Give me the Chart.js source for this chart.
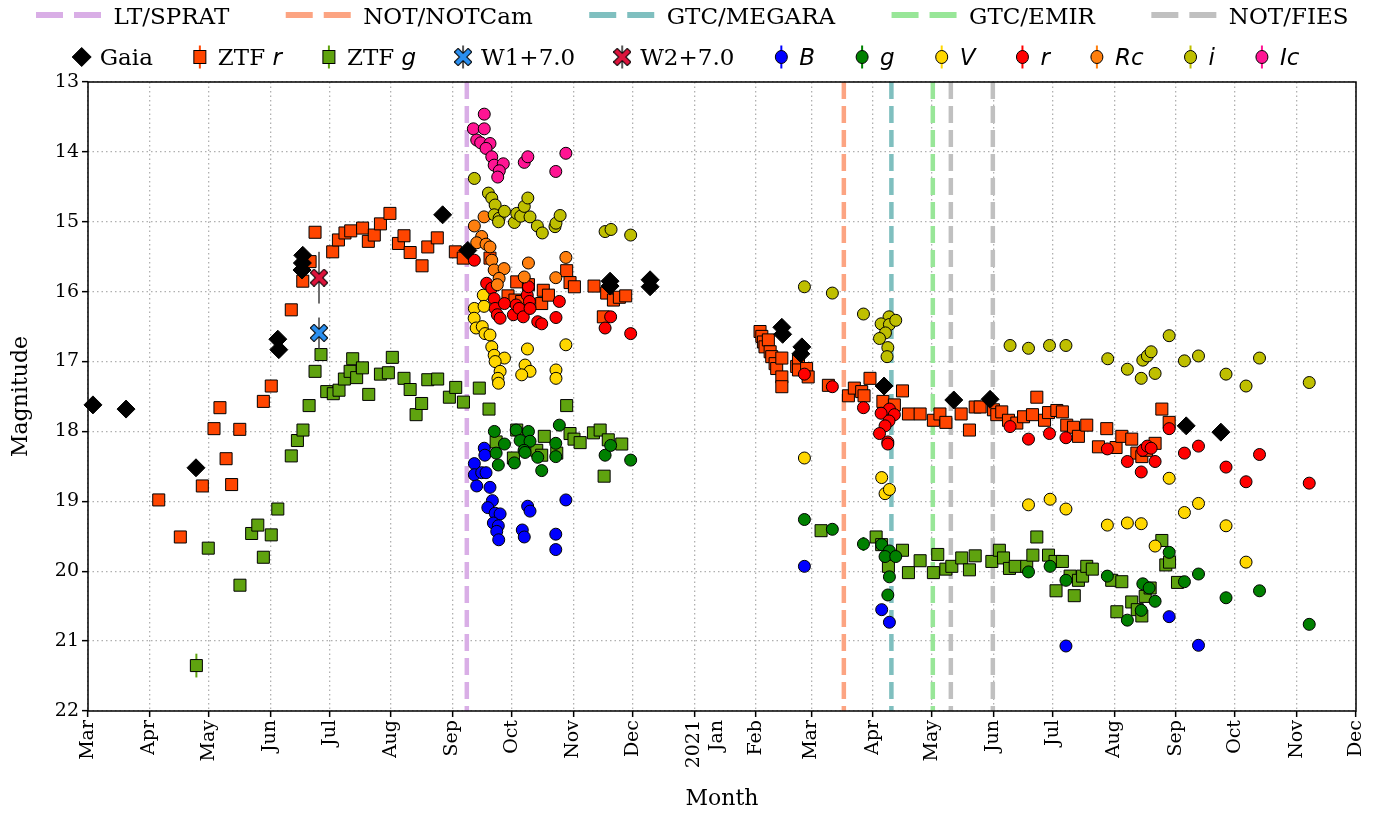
<!DOCTYPE html>
<html>
<head>
<meta charset="utf-8">
<script src="https://cdn.jsdelivr.net/npm/chart.js@4.4.0/dist/chart.umd.min.js"></script>
<style>
  html, body { margin: 0; padding: 0; background: #fff; }
</style>
</head>
<body>
<canvas id="lc" width="1385" height="815"></canvas>
<script>
// ---------- DATA (x = days since 2020-03-01, y = magnitude, optional 3rd = error) ----------
const monthDays = [0, 31, 61, 92, 122, 153, 184, 214, 245, 275, 306, 337, 365, 396, 426, 457, 487, 518, 549, 579, 610, 640];
const monthLabels = ["Mar", "Apr", "May", "Jun", "Jul", "Aug", "Sep", "Oct", "Nov", "Dec", ["2021", "Jan"],
  "Feb", "Mar", "Apr", "May", "Jun", "Jul", "Aug", "Sep", "Oct", "Nov", "Dec"];

// spectroscopy epochs
const specLabels = ["LT/SPRAT", "NOT/NOTCam", "GTC/MEGARA", "GTC/EMIR", "NOT/FIES"];
const specDays = [[191.2], [381.5], [405.5], [426.4], [435.5, 456.7]];

const gaia = [[2.5,17.62],[19.2,17.68],[54.5,18.52],[95.8,16.68],[96.3,16.83],[108.4,15.48],[108.2,15.59],
  [108.0,15.69],[179.0,14.90],[191.7,15.41],[263.5,15.85],[263.5,15.92],[283.7,15.83],[283.7,15.93],
  [350.2,16.51],[350.6,16.61],[360.3,16.79],[359.8,16.89],[401.8,17.35],[437.0,17.55],[455.3,17.54],
  [554.3,17.92],[571.8,18.01]];

const ztfR = [[35.7,18.98],[46.6,19.51],[57.7,18.78],[63.6,17.96],[66.6,17.66],[69.7,18.39],[72.5,18.76],
  [76.6,17.97],[88.5,17.57],[92.5,17.35],[102.6,16.26],[108.4,15.85],[112.1,15.57],[114.6,15.15],
  [123.5,15.43],[126.4,15.26],[129.7,15.16],[132.6,15.13],[138.6,15.09],[141.5,15.28],[144.5,15.19],
  [147.6,15.03],[152.4,14.88],[156.7,15.31],[159.5,15.20],[162.6,15.44],[168.6,15.63],[171.5,15.36],
  [176.3,15.23],[185.4,15.43],[189.4,15.52],[202.9,15.52],[212.0,16.06],[215.5,16.12],[216.4,15.86],
  [218.9,16.14],[222.3,15.90],[229.0,16.17],[229.8,15.98],[232.4,16.05],[241.6,15.70],[243.3,15.87],
  [245.5,15.93],[255.4,15.92],[260.1,16.36],[261.8,16.02],[265.2,16.12],[268.2,16.08],[271.4,16.06],
  [339.2,16.57],[340.1,16.64],[340.9,16.72],[341.7,16.79],[343.4,16.69],[344.3,16.86],[345.1,16.93],
  [346.8,17.03],[347.6,17.10],[350.2,16.95],[350.2,17.22],[350.2,17.36],[357.7,17.07],[358.6,16.98],
  [358.6,17.12],[362.7,17.10],[363.5,17.22],[373.7,17.34],[383.8,17.49],[386.8,17.38],[390.5,17.43],
  [391.7,17.49],[394.7,17.24],[401.2,17.57],[407.0,17.62],[411.1,17.42],[414.1,17.75],[420.0,17.75],
  [426.7,17.84],[430.0,17.75],[433.0,17.87],[440.7,17.75],[444.9,17.98],[447.8,17.65],[450.3,17.65],
  [457.0,17.69],[458.7,17.76],[461.2,17.72],[464.6,17.84],[468.8,17.88],[472.2,17.79],[476.7,17.76],
  [478.9,17.51],[482.8,17.84],[484.8,17.73],[489.0,17.70],[491.8,17.72],[494.0,17.91],[497.4,17.94],
  [499.9,18.07],[504.1,17.91],[510.0,18.22],[514.2,17.96],[518.9,18.23],[521.8,18.07],[526.8,18.11],
  [529.4,18.31],[531.9,18.36],[534.2,18.27],[538.6,18.17],[542.0,17.68],[545.7,17.87]];

const ztfG = [[54.7,21.35,0.17],[60.7,19.67],[76.7,20.20],[82.6,19.46],[85.7,19.34],[88.5,19.80],[92.5,19.48],
  [95.8,19.11],[102.6,18.35],[105.7,18.13],[108.5,17.98],[111.6,17.63],[114.6,17.14],[117.6,16.90],
  [120.5,17.43],[123.8,17.46],[126.7,17.41],[129.4,17.25],[132.3,17.14],[133.6,16.96],[135.6,17.23],
  [138.5,17.09],[141.7,17.47],[147.6,17.18],[151.6,17.16],[153.6,16.94],[159.5,17.24],[162.6,17.40],
  [165.6,17.76],[168.4,17.60],[171.5,17.26],[176.5,17.25],[182.4,17.51],[185.6,17.37],[189.5,17.58],
  [197.5,17.38],[202.4,17.68],[206.0,18.15],[214.7,18.38],[216.4,17.98],[226.5,18.27],[229.0,18.34],
  [230.3,18.07],[236.6,18.31],[241.6,17.63],[243.3,18.03],[245.3,18.11],[248.4,18.16],[255.1,18.02],
  [258.5,17.98],[260.5,18.64],[262.6,18.12],[269.4,18.18],
  [370.0,19.42],[397.8,19.51],[400.6,19.62],[404.0,19.93],[411.1,19.70],[414.1,20.02],[420.0,19.85],
  [426.7,20.02],[428.9,19.76],[433.0,19.97],[436.0,19.93],[441.0,19.81],[444.9,19.98],[447.8,19.78],
  [456.2,19.86],[460.0,19.70],[462.1,19.81],[465.1,19.96],[468.0,19.93],[473.8,19.93],[476.9,19.77],
  [478.9,19.51],[484.8,19.77],[488.1,19.86],[488.6,20.28,0.08],[491.8,19.86],[495.7,20.07],
  [497.8,20.35,0.08],[499.9,20.13],[502.0,20.07],[504.1,19.93],[506.9,19.97],[516.7,20.13],
  [519.3,20.58,0.08],[521.8,20.15],[526.8,20.44,0.07],[529.6,20.55],[531.9,20.64,0.08],[533.6,20.36],
  [536.1,20.24],[542.0,19.56],[544.0,19.91],[545.9,19.87],[549.9,20.16]];

const wise1 = [[116.6,16.59,0.22]];
const wise2 = [[116.6,15.80,0.37]];

const bandB = [[200.0,18.24],[200.3,18.34],[195.0,18.46],[195.0,18.62],[198.7,18.59],[200.9,18.59],[196.2,18.78],
  [202.9,18.80],[204.1,18.99],[201.8,19.09],[205.5,19.17],[208.0,19.18],[204.6,19.31],[207.1,19.35],
  [206.3,19.43],[207.3,19.55],[221.9,19.07],[223.1,19.14],[219.2,19.41],[220.2,19.51],[241.2,18.98],
  [236.1,19.47],[236.1,19.69],
  [361.6,19.93],[400.6,20.55],[404.5,20.73],[493.6,21.07],[545.7,20.65],[560.5,21.06]];

const bandg = [[205.1,18.00],[210.2,18.18],[206.0,18.31],[207.1,18.48],[216.1,17.98],[218.1,18.13],[222.3,18.00],
  [223.1,18.14],[220.1,18.27],[220.6,18.30],[215.2,18.45],[227.0,18.37],[229.0,18.56],[236.1,18.17],
  [236.1,18.36],[237.9,17.91],[261.0,18.34],[263.8,18.20],[273.9,18.41],
  [361.6,19.26],[375.7,19.40],[391.4,19.61,0.1],[400.6,19.62],[404.5,19.71],[402.3,19.79],[407.7,19.79],
  [404.5,20.08],[403.7,20.34],[474.7,20.01],[485.6,19.93],[493.6,20.13],[514.5,20.07],[524.6,20.70],
  [531.6,20.56],[532.4,20.18],[535.6,20.24],[538.6,20.43],[545.7,19.73],[553.4,20.15],[560.5,20.04],
  [574.4,20.38],[591.3,20.28],[616.4,20.76]];

const bandV = [[199.5,16.05],[195.0,16.24],[199.9,16.21],[194.9,16.38],[195.9,16.52],[199.0,16.50],[200.4,16.60],
  [202.9,16.62],[203.8,16.79],[205.0,16.91],[210.2,16.95],[205.5,17.00],[208.0,17.14],[206.9,17.24],
  [207.2,17.31],[221.8,16.82],[220.6,17.05],[223.1,17.14],[218.9,17.19],[236.2,17.12],[236.2,17.24],
  [241.2,16.76],
  [361.6,18.38],[400.6,18.66],[402.3,18.89],[404.5,18.83],[474.7,19.05],[485.6,18.97],[493.6,19.11],
  [514.5,19.34],[524.6,19.31],[531.6,19.32],[538.6,19.64],[545.7,18.67],[553.4,19.16],[560.5,19.03],
  [574.4,19.35],[584.5,19.87]];

const bandr = [[195.0,15.55],[201.2,15.88],[203.8,15.95],[205.0,16.10],[205.5,16.24],[206.6,16.33],[208.0,16.38],
  [210.2,16.17],[214.7,16.33],[216.1,16.19],[217.6,16.24],[219.7,16.36],[221.7,16.05],[222.8,16.14],
  [223.1,16.24],[222.3,15.93],[227.0,16.43],[229.0,16.46],[236.2,16.37],[237.9,16.14],[261.0,16.52],
  [263.8,16.36],[273.9,16.60],
  [361.6,17.18],[375.7,17.36],[391.4,17.66],[404.5,17.68],[407.0,17.76],[400.3,17.74],[404.3,17.85],
  [402.3,17.92],[399.5,18.03],[403.7,18.15],[403.7,18.18],[465.4,17.93],[474.7,18.11],[485.3,18.03],
  [493.6,18.09],[514.5,18.25],[524.6,18.43],[531.6,18.58],[532.4,18.27],[534.7,18.21],[536.6,18.24],
  [538.6,18.43],[545.7,17.96],[553.4,18.31],[560.5,18.21],[574.4,18.51],[584.5,18.72],[591.3,18.33],
  [616.4,18.74]];

const bandRc = [[195.0,15.06],[199.9,14.93],[198.7,15.21],[196.2,15.30],[200.9,15.32],[202.9,15.36],[203.8,15.55],
  [205.0,15.69],[210.0,15.67],[207.5,15.81],[206.6,15.90],[222.3,15.59],[220.2,15.79],[236.1,15.80],
  [241.2,15.51]];

const bandi = [[195.0,14.38],[202.1,14.59],[203.8,14.66],[205.5,14.76],[205.0,14.90],[207.5,14.95],[207.2,15.00],
  [210.2,14.85],[215.2,15.01],[216.4,14.88],[218.4,14.92],[220.2,14.78],[222.0,14.66],[223.1,14.93],
  [226.8,15.06],[229.3,15.16],[235.7,15.07],[236.2,15.02],[238.3,14.91],[261.0,15.14],[264.0,15.11],
  [273.9,15.19],
  [361.6,15.93],[375.7,16.02],[391.4,16.32],[404.3,16.36],[400.3,16.46],[404.5,16.47],[407.7,16.41],
  [402.5,16.59],[399.5,16.67],[403.7,16.80],[403.3,16.93],[465.4,16.77],[474.7,16.81],[485.3,16.77],
  [493.6,16.77],[514.7,16.96],[524.6,17.11],[531.6,17.24],[532.4,16.98],[534.7,16.92],[536.6,16.86],
  [538.6,17.17],[545.7,16.63],[553.4,16.99],[560.5,16.92],[574.4,17.18],[584.5,17.35],[591.3,16.95],
  [616.4,17.30]];

const bandIc = [[200.0,13.46],[194.5,13.67],[200.0,13.67],[196.2,13.83],[198.2,13.87],[202.9,13.88],[200.9,13.95],
  [203.8,14.07],[205.0,14.19],[209.6,14.17],[207.6,14.27],[206.8,14.36],[220.2,14.15],[222.0,14.07],
  [241.2,14.02],[236.1,14.28]];

// ---------- STYLE ----------
const SERIF = "'DejaVu Serif', serif";
const SANS = "'DejaVu Sans', sans-serif";
const specColors = ["#d9aee6", "#fca482", "#7fbfbf", "#98e698", "#c0c0c0"];

function toPts(arr) {
  return arr.map(p => ({ x: p[0], y: p[1], e: p[2] || 0 }));
}

// filled "X" marker like matplotlib's
function makeX(color) {
  const c = document.createElement("canvas");
  c.width = 18; c.height = 18;
  const g = c.getContext("2d");
  const arms = () => { g.beginPath(); g.moveTo(4, 4); g.lineTo(14, 14); g.moveTo(14, 4); g.lineTo(4, 14); };
  g.lineCap = "square";
  g.strokeStyle = "#000"; g.lineWidth = 6.2; arms(); g.stroke();
  g.strokeStyle = color; g.lineWidth = 4.2; arms(); g.stroke();
  return c;
}

function markerSet(label, data, color, style, radius, order, errColor) {
  return {
    label: label,
    data: toPts(data),
    backgroundColor: color,
    borderColor: "#000",
    borderWidth: 1,
    pointStyle: style,
    pointRadius: radius,
    pointHoverRadius: radius,
    showLine: false,
    order: order,
    errColor: errColor,
    clip: 8
  };
}

const datasets = [];
specDays.forEach((days, k) => {
  days.forEach(d => {
    datasets.push({
      label: specLabels[k],
      data: [{ x: d, y: 13 }, { x: d, y: 22 }],
      showLine: true,
      borderColor: specColors[k],
      borderWidth: 4.5,
      borderDash: [17, 7],
      pointRadius: 0,
      order: 100
    });
  });
});

const xW1 = makeX("#2a8ff0");
const xW2 = makeX("#dc143c");

datasets.push(markerSet("ZTF r", ztfR, "#ff4500", "rect", 8.5, 20, "#ff4500"));
datasets.push(markerSet("ZTF g", ztfG, "#5fa30f", "rect", 8.5, 19, "#5fa30f"));
datasets.push(markerSet("B", bandB, "#0000ff", "circle", 6, 12, "#0000ff"));
datasets.push(markerSet("g", bandg, "#008000", "circle", 6, 11, "#008000"));
datasets.push(markerSet("V", bandV, "#ffd700", "circle", 6, 10, "#ffd700"));
datasets.push(markerSet("r", bandr, "#ff0000", "circle", 6, 9, "#ff0000"));
datasets.push(markerSet("Rc", bandRc, "#ff7f0e", "circle", 6, 8, "#ff7f0e"));
datasets.push(markerSet("i", bandi, "#bfbf00", "circle", 6, 7, "#bfbf00"));
datasets.push(markerSet("Ic", bandIc, "#ff1493", "circle", 6, 6, "#ff1493"));
datasets.push(markerSet("Gaia", gaia, "#000000", "rectRot", 9, 3, null));
datasets.push(markerSet("W1+7.0", wise1, "#2a8ff0", xW1, 9, 2, "#707070"));
datasets.push(markerSet("W2+7.0", wise2, "#dc143c", xW2, 9, 1, "#707070"));

// ---------- PLUGINS ----------
const errorBars = {
  id: "errorBars",
  beforeDatasetDraw(chart, args) {
    const ds = chart.data.datasets[args.index];
    if (!ds.errColor) return;
    const xs = chart.scales.x, ys = chart.scales.y, ctx = chart.ctx;
    ctx.save();
    ctx.strokeStyle = ds.errColor;
    ctx.lineWidth = 2;
    ds.data.forEach(p => {
      if (!p.e) return;
      const px = xs.getPixelForValue(p.x);
      ctx.beginPath();
      ctx.moveTo(px, ys.getPixelForValue(p.y - p.e));
      ctx.lineTo(px, ys.getPixelForValue(p.y + p.e));
      ctx.stroke();
    });
    ctx.restore();
  }
};

const frame = {
  id: "frame",
  afterDraw(chart) {
    const a = chart.chartArea, ctx = chart.ctx;
    ctx.save();
    ctx.strokeStyle = "#000";
    ctx.lineWidth = 1.5;
    ctx.strokeRect(a.left, a.top, a.right - a.left, a.bottom - a.top);
    ctx.restore();
  }
};

// legend entries: [label parts, color, marker]
const legendMarkers = [
  { parts: [["Gaia", 0]], color: "#000", mark: "diamond" },
  { parts: [["ZTF ", 0], ["r", 1]], color: "#ff4500", mark: "square", bar: "#ff4500" },
  { parts: [["ZTF ", 0], ["g", 1]], color: "#5fa30f", mark: "square", bar: "#5fa30f" },
  { parts: [["W1+7.0", 0]], color: "#2a8ff0", mark: "x", bar: "#555" },
  { parts: [["W2+7.0", 0]], color: "#dc143c", mark: "x", bar: "#555" },
  { parts: [["B", 1]], color: "#0000ff", mark: "circle", bar: "#0000ff" },
  { parts: [["g", 1]], color: "#008000", mark: "circle", bar: "#008000" },
  { parts: [["V", 1]], color: "#ffd700", mark: "circle", bar: "#ffd700" },
  { parts: [["r", 1]], color: "#ff0000", mark: "circle", bar: "#ff0000" },
  { parts: [["Rc", 1]], color: "#ff7f0e", mark: "circle", bar: "#ff7f0e" },
  { parts: [["i", 1]], color: "#bfbf00", mark: "circle", bar: "#bfbf00" },
  { parts: [["Ic", 1]], color: "#ff1493", mark: "circle", bar: "#ff1493" }
];

const topLegend = {
  id: "topLegend",
  afterDraw(chart) {
    const ctx = chart.ctx;
    const fSerif = "23px " + SERIF, fItal = "italic 23px " + SANS;
    ctx.save();
    ctx.fillStyle = "#000";
    ctx.textBaseline = "alphabetic";

    // row 1: spectra (dashed lines)
    let x = 36;
    specLabels.forEach((lab, k) => {
      ctx.strokeStyle = specColors[k];
      ctx.lineWidth = 6;
      ctx.setLineDash([27, 11]);
      ctx.beginPath(); ctx.moveTo(x, 15); ctx.lineTo(x + 65, 15); ctx.stroke();
      ctx.setLineDash([]);
      ctx.font = fSerif;
      ctx.fillText(lab, x + 77.5, 24);
      x += 77.5 + ctx.measureText(lab).width + 56.5;
    });

    // row 2: photometry markers
    let cx = 81.7;
    const cy = 57;
    legendMarkers.forEach(item => {
      if (item.bar) {
        ctx.strokeStyle = item.bar; ctx.lineWidth = 2;
        ctx.beginPath(); ctx.moveTo(cx, cy - 11.5); ctx.lineTo(cx, cy + 11.5); ctx.stroke();
      }
      ctx.fillStyle = item.color; ctx.strokeStyle = "#000"; ctx.lineWidth = 1;
      if (item.mark === "diamond") {
        ctx.beginPath(); ctx.moveTo(cx, cy - 9.5); ctx.lineTo(cx + 9.5, cy); ctx.lineTo(cx, cy + 9.5); ctx.lineTo(cx - 9.5, cy); ctx.closePath();
        ctx.fill(); ctx.stroke();
      } else if (item.mark === "square") {
        ctx.fillRect(cx - 6, cy - 6.5, 12, 13); ctx.strokeRect(cx - 6, cy - 6.5, 12, 13);
      } else if (item.mark === "circle") {
        ctx.beginPath(); ctx.ellipse(cx, cy, 6, 6.5, 0, 0, Math.PI * 2); ctx.fill(); ctx.stroke();
      } else if (item.mark === "x") {
        ctx.drawImage(makeX(item.color), cx - 9, cy - 9);
      }
      let tx = cx + 18;
      ctx.fillStyle = "#000";
      item.parts.forEach(([txt, ital]) => {
        ctx.font = ital ? fItal : fSerif;
        ctx.fillText(txt, tx, 65);
        tx += ctx.measureText(txt).width;
      });
      cx = tx + 47;
    });
    ctx.restore();
  }
};

// ---------- CHART ----------
new Chart(document.getElementById("lc"), {
  type: "scatter",
  data: { datasets: datasets },
  options: {
    responsive: false,
    animation: false,
    events: [],
    layout: { padding: { top: 82, right: 29, left: 0, bottom: 0 } },
    plugins: { legend: { display: false }, tooltip: { enabled: false } },
    scales: {
      x: {
        type: "linear",
        min: 0,
        max: 640,
        afterBuildTicks: s => { s.ticks = monthDays.map(v => ({ value: v })); },
        afterFit: s => { s.height = 104; },
        ticks: {
          autoSkip: false,
          minRotation: 90,
          maxRotation: 90,
          padding: 3,
          color: "#000",
          font: { family: SERIF, size: 19 },
          callback: (v, i) => monthLabels[i]
        },
        grid: { color: "#b0b0b0", lineWidth: 1.3, tickColor: "#000", tickLength: 6, tickWidth: 1.5 },
        border: { display: false, dash: [1.5, 3] },
        title: { display: true, text: "Month", color: "#000", font: { family: SERIF, size: 22 }, padding: { top: 0, bottom: 3 } }
      },
      y: {
        reverse: true,
        min: 13,
        max: 22,
        afterFit: s => { s.width = 88; },
        ticks: { stepSize: 1, padding: 3, color: "#000", font: { family: SERIF, size: 19 } },
        grid: { color: "#b0b0b0", lineWidth: 1.3, tickColor: "#000", tickLength: 6, tickWidth: 1.5 },
        border: { display: false, dash: [1.5, 3] },
        title: { display: true, text: "Magnitude", color: "#000", font: { family: SERIF, size: 22 }, padding: { top: 8, bottom: 0 } }
      }
    }
  },
  plugins: [errorBars, frame, topLegend]
});
</script>
</body>
</html>
